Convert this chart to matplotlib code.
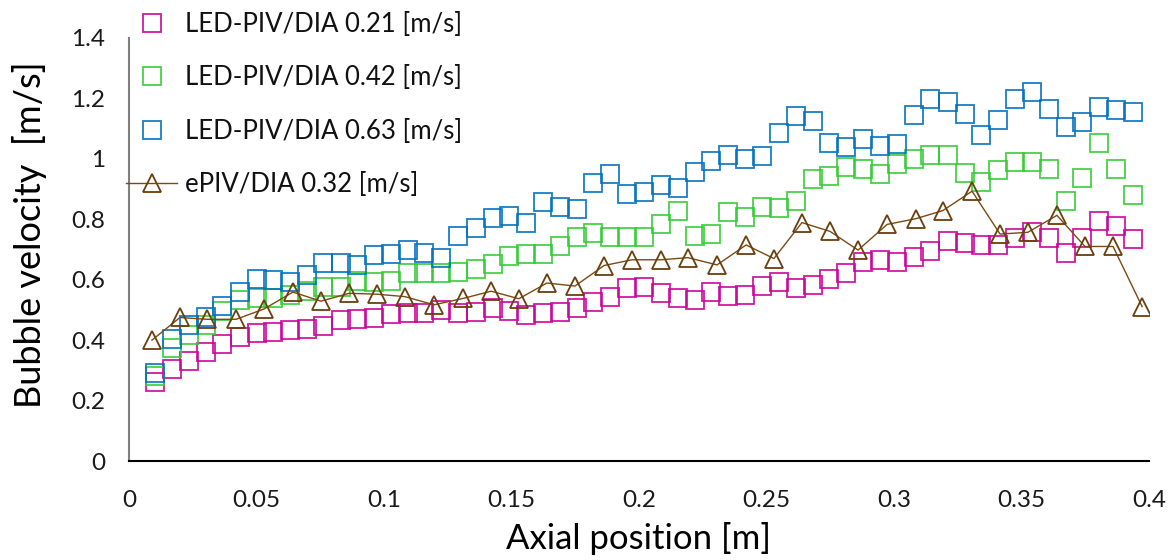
import matplotlib
matplotlib.use("Agg")
import matplotlib.pyplot as plt

# ---- data ----
x_led = [0.0102, 0.0169, 0.0235, 0.0302, 0.0365, 0.0435, 0.0502, 0.0565, 0.0631, 0.0698,
         0.0761, 0.0831, 0.0894, 0.0961, 0.1027, 0.1094, 0.1157, 0.1224, 0.1290, 0.1361,
         0.1427, 0.1490, 0.1557, 0.1624, 0.1690, 0.1757, 0.1820, 0.1886, 0.1953, 0.2020,
         0.2086, 0.2153, 0.2220, 0.2282, 0.2349, 0.2416, 0.2482, 0.2549, 0.2616, 0.2682,
         0.2745, 0.2812, 0.2878, 0.2945, 0.3012, 0.3078, 0.3141, 0.3212, 0.3278, 0.3341,
         0.3408, 0.3475, 0.3541, 0.3608, 0.3675, 0.3737, 0.3804, 0.3871, 0.3937]

v_021 = [0.260, 0.303, 0.330, 0.360, 0.388, 0.411, 0.424, 0.428, 0.434, 0.436,
         0.447, 0.466, 0.471, 0.474, 0.485, 0.489, 0.489, 0.500, 0.490, 0.493,
         0.508, 0.496, 0.484, 0.489, 0.494, 0.507, 0.527, 0.544, 0.572, 0.577,
         0.555, 0.539, 0.533, 0.559, 0.546, 0.550, 0.580, 0.591, 0.574, 0.582,
         0.602, 0.621, 0.660, 0.665, 0.660, 0.674, 0.696, 0.729, 0.723, 0.714,
         0.714, 0.737, 0.759, 0.737, 0.690, 0.737, 0.795, 0.778, 0.734]

v_042 = [0.282, 0.373, 0.418, 0.449, 0.497, 0.533, 0.540, 0.540, 0.549, 0.563,
         0.577, 0.577, 0.596, 0.594, 0.596, 0.623, 0.621, 0.623, 0.627, 0.636,
         0.653, 0.678, 0.685, 0.686, 0.713, 0.741, 0.755, 0.742, 0.740, 0.743,
         0.784, 0.826, 0.745, 0.751, 0.825, 0.806, 0.842, 0.837, 0.861, 0.933,
         0.944, 0.972, 0.966, 0.949, 0.982, 1.001, 1.012, 1.013, 0.953, 0.925,
         0.964, 0.988, 0.990, 0.966, 0.861, 0.936, 1.054, 0.966, 0.881]

v_063 = [0.290, 0.404, 0.450, 0.478, 0.514, 0.560, 0.602, 0.600, 0.591, 0.615,
         0.656, 0.656, 0.649, 0.681, 0.686, 0.698, 0.687, 0.671, 0.745, 0.770,
         0.804, 0.810, 0.787, 0.856, 0.842, 0.834, 0.919, 0.949, 0.883, 0.891,
         0.913, 0.902, 0.957, 0.994, 1.012, 1.001, 1.010, 1.087, 1.143, 1.126,
         1.054, 1.038, 1.065, 1.042, 1.049, 1.145, 1.197, 1.189, 1.147, 1.079,
         1.129, 1.198, 1.220, 1.166, 1.106, 1.123, 1.170, 1.162, 1.155]

x_epiv = [0.0090, 0.0200, 0.0306, 0.0420, 0.0529, 0.0643, 0.0753, 0.0863, 0.0973, 0.1082,
          0.1196, 0.1310, 0.1420, 0.1529, 0.1639, 0.1749, 0.1863, 0.1973, 0.2086, 0.2192,
          0.2306, 0.2420, 0.2529, 0.2639, 0.2749, 0.2859, 0.2973, 0.3086, 0.3192, 0.3306,
          0.3416, 0.3525, 0.3639, 0.3749, 0.3859, 0.3973]

v_032 = [0.400, 0.475, 0.469, 0.469, 0.503, 0.559, 0.529, 0.555, 0.552, 0.544,
         0.517, 0.538, 0.562, 0.537, 0.589, 0.579, 0.647, 0.666, 0.666, 0.673,
         0.649, 0.715, 0.670, 0.789, 0.760, 0.698, 0.783, 0.802, 0.829, 0.893,
         0.751, 0.757, 0.813, 0.710, 0.710, 0.511]

labels = ["LED-PIV/DIA 0.21 [m/s]", "LED-PIV/DIA 0.42 [m/s]",
          "LED-PIV/DIA 0.63 [m/s]", "ePIV/DIA 0.32 [m/s]"]
x_ticks = [0, 0.05, 0.1, 0.15, 0.2, 0.25, 0.3, 0.35, 0.4]
x_ticklabels = ["0", "0.05", "0.1", "0.15", "0.2", "0.25", "0.3", "0.35", "0.4"]
y_ticks = [0, 0.2, 0.4, 0.6, 0.8, 1.0, 1.2, 1.4]
y_ticklabels = ["0", "0.2", "0.4", "0.6", "0.8", "1", "1.2", "1.4"]

plt.rcParams['font.family'] = ['Lato', 'DejaVu Sans']

fig = plt.figure(figsize=(11.76, 5.6), dpi=100)
ax = fig.add_axes([129/1176, 1 - 461/560, (1149 - 129)/1176, (461 - 38)/560])

ms = 13
mew = 1.3
h1, = ax.plot(x_led, v_021, ls='none', marker='s', ms=ms, mfc='none', mec='#CC0099', mew=mew, alpha=0.9, label=labels[0])
h2, = ax.plot(x_led, v_042, ls='none', marker='s', ms=ms, mfc='none', mec='#33CC33', mew=mew, alpha=0.9, label=labels[1])
h3, = ax.plot(x_led, v_063, ls='none', marker='s', ms=ms, mfc='none', mec='#0070C0', mew=mew, alpha=0.9, label=labels[2])
h4, = ax.plot(x_epiv, v_032, ls='-', lw=1.0, color='#7B4A12', marker='^', ms=ms, mfc='none', mec='#6B3E0E', mew=1.3, label=labels[3])

ax.set_xlim(0, 0.4)
ax.set_ylim(0, 1.4)
ax.set_xticks(x_ticks)
ax.set_xticklabels(x_ticklabels)
ax.set_yticks(y_ticks)
ax.set_yticklabels(y_ticklabels)
ax.tick_params(axis='both', length=0, labelsize=17.5, colors='#1a1a1a')
ax.tick_params(axis='y', pad=17)
ax.tick_params(axis='x', pad=21)

for s in ['top', 'right']:
    ax.spines[s].set_visible(False)
ax.spines['left'].set_color('#808080')
ax.spines['left'].set_linewidth(1.5)
ax.spines['bottom'].set_color('#000000')
ax.spines['bottom'].set_linewidth(1.5)

ax.set_xlabel("Axial position [m]", fontsize=25)
ax.xaxis.set_label_coords(0.5, -(522 - 461) / 423)
ax.set_ylabel("Bubble velocity  [m/s]", fontsize=26)
ax.yaxis.set_label_coords((47 - 129) / 1020, (461 - 235) / 423)

leg = fig.legend(handles=[h1, h2, h3, h4], loc='upper left',
                 bbox_to_anchor=(126/1176, 1 - 12/560), frameon=False,
                 fontsize=18.5, handlelength=2.0, handletextpad=0.3,
                 labelspacing=1.1, borderpad=0, borderaxespad=0)
for t in leg.get_texts():
    t.set_color('#111111')

fig.savefig("out.png", dpi=100)
